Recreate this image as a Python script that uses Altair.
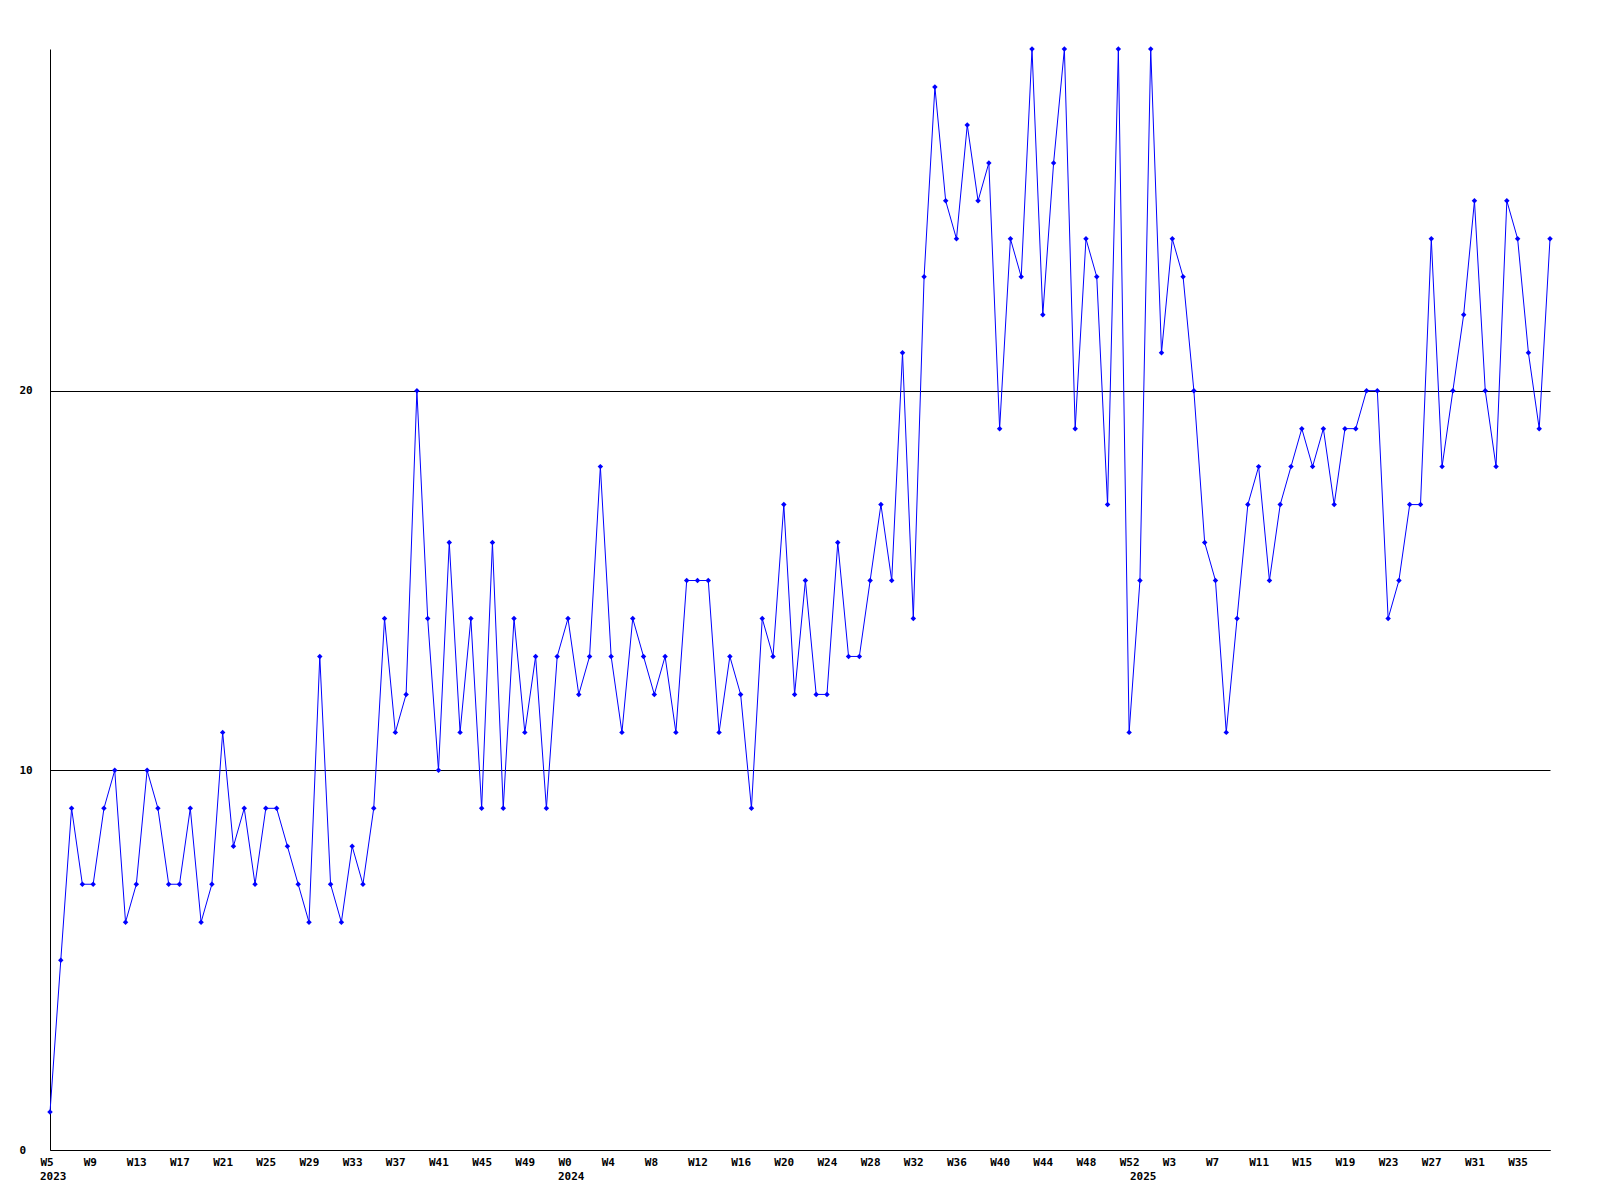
import altair as alt
import pandas as pd

# Weekly counts
values_2023 = [1, 5, 9, 7, 7, 9, 10, 6, 7, 10, 9, 7, 7, 9, 6, 7, 11, 8, 9, 7, 9, 9, 8, 7,
               6, 13, 7, 6, 8, 7, 9, 14, 11, 12, 20, 14, 10, 16, 11, 14, 9, 16, 9, 14, 11, 13, 9, 13]
values_2024 = [14, 12, 13, 18, 13, 11, 14, 13, 12, 13, 11, 15, 15, 15, 11, 13, 12, 9, 14, 13,
               17, 12, 15, 12, 12, 16, 13, 13, 15, 17, 15, 21, 14, 23, 28, 25, 24, 27, 25, 26,
               19, 24, 23, 29, 22, 26, 29, 19, 24, 23, 17, 29, 11]
values_2025 = [15, 29, 21, 24, 23, 20, 16, 15, 11, 14, 17, 18, 15, 17, 18, 19, 18, 19, 17, 19,
               19, 20, 20, 14, 15, 17, 17, 24, 18, 20, 22, 25, 20, 18, 25, 24, 21, 19, 24]

# x-axis tick labels (every 4th week)
tick_labels = ["W5", "W9", "W13", "W17", "W21", "W25", "W29", "W33", "W37", "W41", "W45", "W49",
               "W0", "W4", "W8", "W12", "W16", "W20", "W24", "W28", "W32", "W36", "W40", "W44",
               "W48", "W52", "W3", "W7", "W11", "W15", "W19", "W23", "W27", "W31", "W35"]
years = ["2023", "2024", "2025"]

values = values_2023 + values_2024 + values_2025
df = pd.DataFrame({"i": list(range(len(values))), "v": values})
year_starts = [0, len(values_2023), len(values_2023) + len(values_2024)]
ydf = pd.DataFrame({"i": year_starts, "year": years})

n = len(values) - 1
tick_vals = list(range(0, len(tick_labels) * 4, 4))
label_js = "[" + ",".join("'%s'" % t for t in tick_labels) + "]"

FONT = "DejaVu Sans Mono"

x_enc = alt.X("i:Q", scale=alt.Scale(domain=[0, n], nice=False, zero=False),
              axis=alt.Axis(values=tick_vals, labelExpr=label_js + "[round(datum.value/4)]",
                            title=None, grid=False, ticks=False, tickSize=0,
                            labelAlign="left", labelOffset=-10, labelBaseline="middle",
                            labelPadding=12, labelFont=FONT, labelFontWeight="bold",
                            labelFontSize=11, labelColor="black", domainColor="black",
                            domainWidth=1, labelFlush=False, labelOverlap=False))
y_enc = alt.Y("v:Q", scale=alt.Scale(domain=[0, 29], nice=False),
              axis=alt.Axis(values=[0, 10, 20], title=None, grid=True, gridColor="black",
                            gridOpacity=1, gridWidth=1, ticks=False, tickSize=0,
                            labelAlign="left", labelBaseline="middle", labelPadding=31,
                            labelFont=FONT, labelFontWeight="bold", labelFontSize=11,
                            labelColor="black", domainColor="black", domainWidth=1))

line = alt.Chart(df).mark_line(color="#0000ff", strokeWidth=1).encode(x=x_enc, y=y_enc)
pts = alt.Chart(df).mark_point(shape="diamond", filled=True, color="#0000ff", size=30,
                               opacity=1).encode(x="i:Q", y="v:Q")
yr = alt.Chart(ydf).mark_text(align="left", baseline="middle", dx=-10, font=FONT,
                              fontWeight="bold", fontSize=11, color="black").encode(
    x="i:Q", y=alt.value(1128), text="year:N")

chart = alt.layer(line, pts, yr).properties(
    width=1500, height=1101,
    autosize=alt.AutoSizeParams(type="none"),
    padding={"left": 42, "top": 41, "right": 40, "bottom": 40},
    background="white",
).configure_view(stroke=None)

chart.save("out.html", embed_options={"renderer": "svg", "actions": False})
